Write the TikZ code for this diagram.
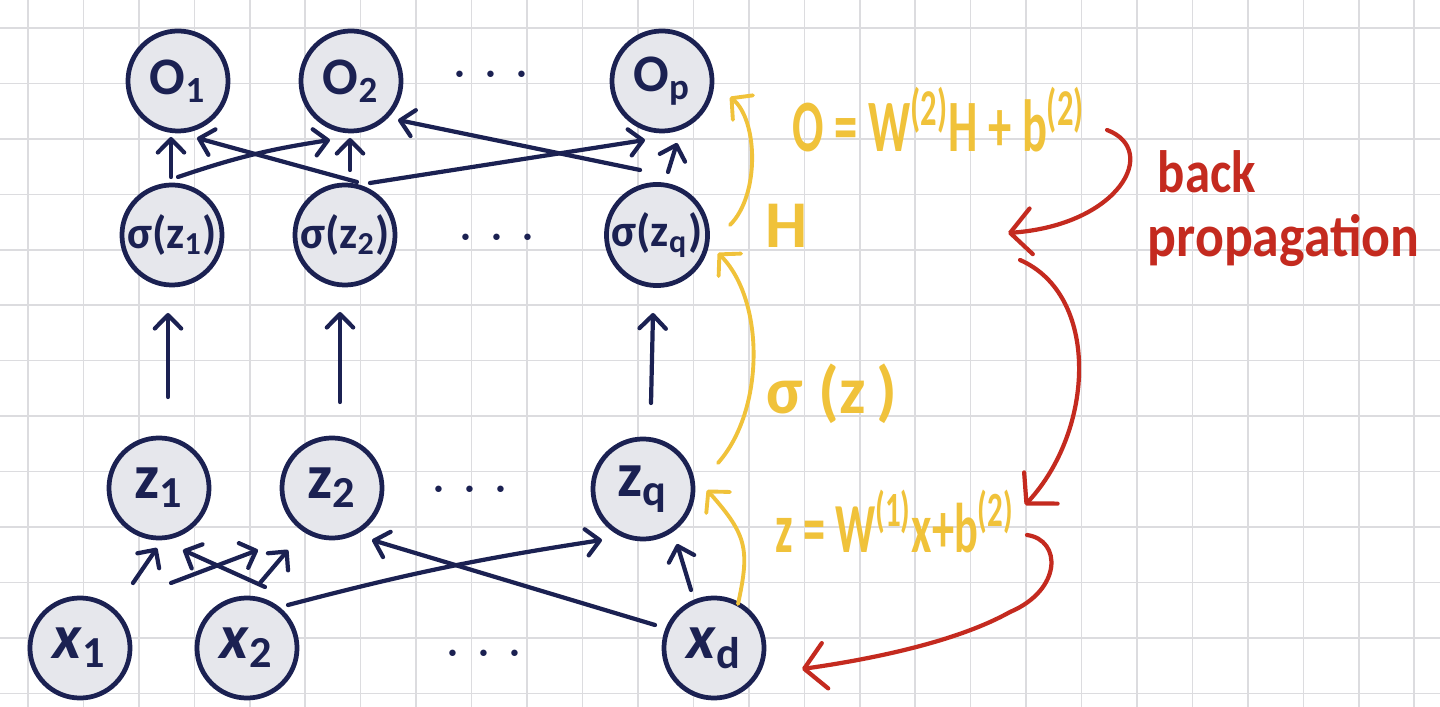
\documentclass[tikz,border=0pt]{standalone}
\usepackage{fontspec}
\setmainfont{Carlito}
\usetikzlibrary{arrows.meta}
\definecolor{navy}{HTML}{1B2152}
\definecolor{nfill}{HTML}{E6E7EC}
\definecolor{ylw}{HTML}{F0C23A}
\definecolor{rd}{HTML}{C42A1F}
\definecolor{gridc}{HTML}{DCDCDF}
\tikzset{
  neuron/.style={circle,draw=navy,fill=nfill,line width=1.35pt,minimum size=1cm,inner sep=0pt,text=navy,font=\fontsize{15}{16}\selectfont\bfseries},
  sneuron/.style={neuron,font=\fontsize{13}{14}\selectfont\bfseries},
  xneuron/.style={neuron,font=\fontsize{18}{19}\selectfont\bfseries},
  conn/.style={draw=navy,line width=1.2pt,line cap=round,-{Straight Barb[length=3.8pt,width=7.5pt,round]}},
  yarr/.style={draw=ylw,line width=1.1pt,line cap=round,-{Straight Barb[length=4.2pt,width=9pt,round]}},
  rarr/.style={draw=rd,line width=1.2pt,line cap=round,-{Straight Barb[length=6pt,width=13pt,round]}},
  ytext/.style={text=ylw,font=\fontsize{19}{21}\selectfont\bfseries,inner sep=0pt},
  rtext/.style={text=rd,font=\fontsize{17}{19}\selectfont\bfseries,inner sep=0pt},
  dotstext/.style={text=navy,font=\fontsize{19}{19}\selectfont,inner sep=0pt},
  gridline/.style={draw=gridc,line width=0.45pt},
}
\newcommand{\dts}{$\cdot$\hspace{4pt}$\cdot$\hspace{4pt}$\cdot$}
\begin{document}
\begin{tikzpicture}[x=0.01cm,y=-0.01cm]
\useasboundingbox (0,0) rectangle (1440,707);
\fill[white] (0,0) rectangle (1440,707);
\foreach \i in {0,...,25} \draw[gridline] ({28+55.45*\i},0) -- ({28+55.45*\i},707);
\foreach \j in {0,...,12} \draw[gridline] (0,{28+55.45*\j}) -- (1440,{28+55.45*\j});

% nodes
\node[neuron] (O1) at (178,81) {O\textsubscript{1}};
\node[neuron] (O2) at (351,81) {O\textsubscript{2}};
\node[neuron] (Op) at (662,81) {O\textsubscript{p}};
\node[sneuron] (s1) at (172,235) {σ(z\textsubscript{1})};
\node[sneuron] (s2) at (345,235) {σ(z\textsubscript{2})};
\node[sneuron] (sq) at (657,235) {σ(z\textsubscript{q})};
\node[xneuron] (z1) at (159,488) {z\textsubscript{1}};
\node[xneuron] (z2) at (332,488) {z\textsubscript{2}};
\node[xneuron] (zq) at (643,489) {z\textsubscript{q}};
\node[xneuron] (x1) at (80,648) {\textit{x}\textsubscript{1}};
\node[xneuron] (x2) at (247,648) {\textit{x}\textsubscript{2}};
\node[xneuron] (xd) at (714,648) {\textit{x}\textsubscript{d}};

\node[dotstext] (d1) at (491,76) {\dts};
\node[dotstext] (d2) at (497,239) {\dts};
\node[dotstext] (d3) at (470,491) {\dts};
\node[dotstext] (d4) at (484,655) {\dts};

% hidden -> output
\draw[conn] ([shift={(-1,-58)}]s1.center) -- ([shift={(-7,56)}]O1.center);
\draw[conn] ([shift={(6,-58)}]s1.center) to[bend left=5] ([shift={(-21,59)}]O2.center);
\draw[conn] ([shift={(12,-53)}]s2.center) -- ([shift={(19,57)}]O1.center);
\draw[conn] ([shift={(5,-65)}]s2.center) -- ([shift={(-1,57)}]O2.center);
\draw[conn] ([shift={(25,-52)}]s2.center) -- ([shift={(-17,59)}]Op.center);
\draw[conn] ([shift={(-17,-65)}]sq.center) -- ([shift={(47,39)}]O2.center);
\draw[conn] ([shift={(11,-63)}]sq.center) -- ([shift={(15,62)}]Op.center);

% z -> sigma
\draw[conn] ([shift={(9,-91)}]z1.center) -- ([shift={(-4,78)}]s1.center);
\draw[conn] ([shift={(8,-86)}]z2.center) -- ([shift={(-5,77)}]s2.center);
\draw[conn] ([shift={(8,-86)}]zq.center) -- ([shift={(-4,78)}]sq.center);

% input -> z
\draw[conn] ([shift={(53,-65)}]x1.center) -- ([shift={(-2,60)}]z1.center);
\draw[conn] ([shift={(91,-65)}]x1.center) -- ([shift={(-74,62)}]z2.center);
\draw[conn] ([shift={(18,-61)}]x2.center) -- ([shift={(24,62)}]z1.center);
\draw[conn] ([shift={(13,-65)}]x2.center) -- ([shift={(-44,62)}]z2.center);
\draw[conn] ([shift={(41,-43)}]x2.center) to[bend left=3] ([shift={(-41,51)}]zq.center);
\draw[conn] ([shift={(-59,-23)}]xd.center) -- ([shift={(40,52)}]z2.center);
\draw[conn] ([shift={(-23,-58)}]xd.center) -- ([shift={(34,55)}]zq.center);

% yellow forward arrows
\draw[yarr] ([shift={(24,-44)}]xd.center) .. controls +(12,-55) and +(40,45) .. ([shift={(64,1)}]zq.center);
\draw[yarr] ([shift={(75,-26)}]zq.center) .. controls +(47,-53) and +(47,47) .. ([shift={(61,18)}]sq.center);
\draw[yarr] ([shift={(73,-10)}]sq.center) .. controls +(30,-30) and +(28,23) .. ([shift={(68,16)}]Op.center);

% yellow labels
\node[ytext,anchor=base west,font=\fontsize{21}{23}\selectfont\bfseries] (fO) at (792,152) {\scalebox{0.63}[1]{O = W\textsuperscript{(2)}H + b\textsuperscript{(2)}}};
\node[ytext,anchor=base west] (fH) at (765,248) {H};
\node[ytext,anchor=base west] (fS) at (766,414) {σ (z\,)};
\node[ytext,anchor=base west,font=\fontsize{20}{22}\selectfont\bfseries] (fZ) at (775,553) {\scalebox{0.63}[1]{z = W\textsuperscript{(1)}x+b\textsuperscript{(2)}}};

% red back propagation
\node[rtext,anchor=base west] (bk) at (1157,193) {\scalebox{0.85}[1]{back}};
\node[rtext,anchor=base west] (pg) at (1147,257) {\scalebox{0.9}[1]{propagation}};
\coordinate (rs1) at (1107,130);
\coordinate (re1) at (1008,233);
\coordinate (rs2) at (1020,260);
\coordinate (re2) at (1025,505);
\coordinate (rs3) at (1027,535);
\coordinate (rm3) at (1010,612);
\draw[rarr] (rs1) .. controls (1160,150) and (1120,225) .. (re1);
\draw[rarr] (rs2) .. controls (1100,295) and (1095,430) .. (re2);
\draw[rarr] (rs3) .. controls (1062,540) and (1062,590) .. (rm3) .. controls (960,640) and (880,658) .. ([shift={(88,21)}]xd.center);
\end{tikzpicture}
\end{document}
